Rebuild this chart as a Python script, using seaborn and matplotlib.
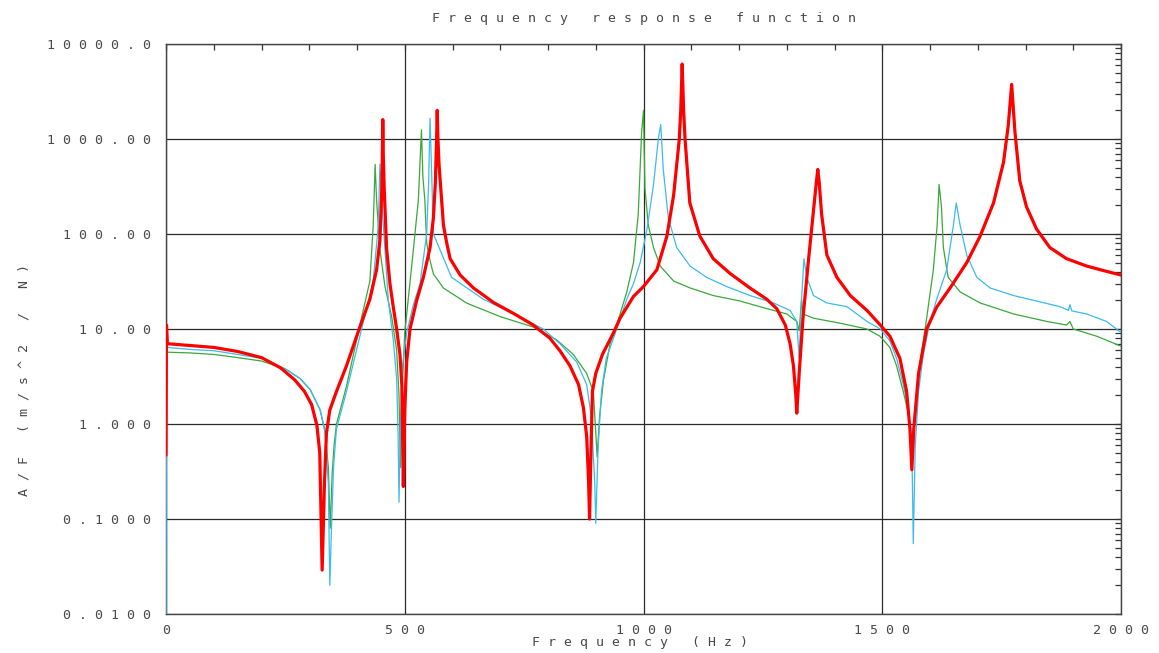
import matplotlib
matplotlib.use("Agg")
import matplotlib.pyplot as plt
import seaborn as sns
from matplotlib.ticker import FixedLocator, FixedFormatter, LogLocator, MultipleLocator, NullFormatter

# Frequency response A/F (m/s^2 / N) for three measurement channels
red_freq = [0, 1, 3, 50, 100, 150, 200, 240, 270, 290, 305, 316, 322, 327, 332, 336, 343, 357,
            378, 406, 427, 441, 448, 452, 453, 454, 455, 457, 462, 469, 476, 483, 490, 494, 497,
            500, 504, 511, 525, 539, 553, 560, 564, 566.5, 568, 569.5, 572, 581, 588, 595, 616,
            644, 686, 734, 769, 804, 825, 846, 864, 874, 881, 885, 887, 890, 893, 900, 914, 937,
            951, 979, 1000, 1028, 1049, 1063, 1075, 1078, 1081, 1084, 1087, 1097, 1118, 1146,
            1181, 1223, 1258, 1279, 1297, 1307, 1314, 1319, 1321, 1326, 1334, 1345, 1356, 1362,
            1365, 1368, 1373, 1384, 1405, 1433, 1468, 1496, 1516, 1537, 1551, 1558, 1562, 1566,
            1576, 1593, 1614, 1642, 1677, 1705, 1733, 1754, 1764, 1771, 1778, 1788, 1802, 1823,
            1851, 1886, 1928, 1965, 2000]
red_af = [0.47, 11, 7.0, 6.7, 6.4, 5.8, 5.0, 3.9, 2.9, 2.2, 1.6, 0.97, 0.5, 0.029, 0.25, 0.8, 1.4,
          2.2, 4.1, 10.5, 20.6, 42, 86, 300, 600, 1600, 700, 300, 70, 30, 17, 10, 5.4, 2.5, 0.22,
          1.4, 4.5, 10, 20, 35, 72, 148, 340, 900, 2000, 1000, 520, 124, 80, 55, 37,
          27, 19, 14, 11, 8, 5.9, 4.1, 2.6, 1.5, 0.74, 0.25, 0.1, 0.5, 2.2, 3.4, 5.4, 9.1,
          13, 22, 28, 42, 95, 254, 1000, 2000, 6150, 2000, 1000, 212, 95, 55,
          38.5, 27, 20.6, 16.4, 11, 7, 4.1, 2, 1.3, 3.4, 13, 50, 178, 350,
          478, 350, 162, 60, 35, 22.5, 15.7, 11, 8.4, 4.9, 2.2, 0.89, 0.33, 0.89,
          3.4, 10, 17, 27, 50, 95, 212, 570, 1400, 3760, 1170, 363, 194, 113,
          72, 55, 46, 41, 37]

cyan_freq = [0, 1, 3, 50, 100, 150, 200, 250, 281, 302, 323, 333, 340, 343, 347, 351, 357, 378,
             406, 434, 444.7, 448, 451.7, 458.6, 465.6, 476, 483, 486, 488, 491, 495, 504, 518,
             532, 546, 550, 553, 556, 560, 574, 598, 665, 734, 790, 825, 860, 881, 891, 898, 900,
             905, 912, 922, 944, 965, 979, 993, 1007, 1021, 1031, 1036, 1041.5, 1052, 1069.5,
             1097.5, 1132, 1174, 1223, 1272, 1307, 1321, 1326, 1331, 1336, 1342, 1356, 1384,
             1426, 1468, 1496, 1516, 1530, 1544, 1555, 1562, 1565, 1569, 1576, 1586, 1600, 1614,
             1635, 1649, 1655, 1663, 1677, 1698, 1726, 1775, 1823, 1872, 1890, 1893, 1897, 1928,
             1970, 2000]
cyan_af = [0.008, 9, 6.4, 6.1, 5.9, 5.4, 4.9, 3.8, 3.0, 2.3, 1.4, 0.81, 0.23, 0.02, 0.094, 0.36,
           0.89, 2.2, 8.4, 32, 124, 545, 228, 68, 20, 7.7, 3, 0.8, 0.15, 1.0, 4, 9.1, 18,
           30, 100, 350, 1650, 500, 100, 68, 35, 20.5, 14, 10, 7, 4.5, 2.6, 1.16, 0.23, 0.09,
           0.57, 2.2, 4.9, 10, 20.6, 30, 50, 110, 330, 1000, 1420, 475, 148, 72,
           46, 35, 28, 22.5, 18.8, 15.7, 12, 4.9, 20.6, 55, 35, 22.5, 18.8,
           17.2, 12, 10, 7.5, 4.9, 2.6, 1.39, 0.57, 0.055, 0.57, 2.2, 5.4, 12, 20.6,
           42, 124, 212, 124, 60, 35, 27, 22.5, 19.7, 17.2, 15.7, 18, 15.5, 14.4,
           12, 9.2]

green_freq = [0, 1, 3, 50, 100, 150, 200, 250, 281, 302, 323, 333, 340, 344, 348, 352, 357, 378,
              406, 427, 434, 438, 441, 448, 458.6, 472.6, 483, 488, 491, 494, 500, 518, 528.5,
              535, 538, 542, 546, 552, 560, 581, 630, 700, 769, 818, 853, 881, 895, 903, 908,
              916, 930, 944, 965, 979, 989, 996, 1000, 1003, 1010, 1021, 1035, 1063, 1098, 1146,
              1202, 1258, 1300, 1321, 1326, 1331, 1334, 1356, 1412, 1468, 1495, 1516, 1530,
              1544, 1555, 1563, 1570, 1576, 1593, 1607, 1615, 1619, 1624, 1628, 1638, 1663,
              1705, 1775, 1845, 1886, 1893, 1900, 1949, 2000]
green_af = [3.5, 8, 5.7, 5.6, 5.4, 5.0, 4.6, 3.8, 3.0, 2.3, 1.4, 0.85, 0.35, 0.08, 0.3, 0.6, 1.0,
            2.5, 11, 32, 124, 540, 228, 68, 28, 13.5, 6, 2, 0.35, 2, 9.1, 68, 228,
            1250, 400, 228, 80, 55, 38, 27, 18.7, 13.5, 10.5, 7.7, 5.4, 3.4, 2.2, 0.45, 1.2,
            2.85, 7, 11, 24.6, 50, 162, 1170, 2000, 304, 124, 72, 46, 32, 27, 22.5,
            19.7, 16.4, 14.4, 12, 9.6, 20.6, 14.4, 13, 11.5, 10, 8.4, 6.4, 4.1,
            2.2, 1.27, 0.6, 1.6, 3.4, 13, 42, 124, 333, 194, 72, 35, 24.6,
            18.8, 14.4, 12, 11, 12, 10, 8.4, 6.6]

y_ticks = [1e4, 1e3, 1e2, 1e1, 1e0, 1e-1, 1e-2]
y_tick_labels = ["10000.0", "1000.00", "100.00", "10.00", "1.000", "0.1000", "0.0100"]
x_ticks = [0, 500, 1000, 1500, 2000]
x_tick_labels = ["0", "500", "1000", "1500", "2000"]

TEXT = "#484848"


def spaced(s):
    return " ".join(s)


sns.set_style("white")
plt.rcParams["font.family"] = ["DejaVu Sans Mono", "DejaVu Sans"]

fig = plt.figure(figsize=(11.59, 6.53), dpi=100)
ax = fig.add_axes([166 / 1159, 39 / 653, 955 / 1159, 570 / 653])

series = [
    (green_freq, green_af, "#3aa83a", 0.9),
    (cyan_freq, cyan_af, "#3bbbee", 0.9),
    (red_freq, red_af, "#ff0000", 2.3),
]
for freq, af, color, lw in series:
    sns.lineplot(x=freq, y=af, ax=ax, color=color, linewidth=lw,
                 estimator=None, sort=False, zorder=3)

ax.set_yscale("log")
ax.set_xlim(0, 2000)
ax.set_ylim(0.01, 10000)

ax.xaxis.set_major_locator(FixedLocator(x_ticks))
ax.xaxis.set_major_formatter(FixedFormatter([spaced(t) for t in x_tick_labels]))
ax.xaxis.set_minor_locator(MultipleLocator(100))
ax.yaxis.set_major_locator(FixedLocator(y_ticks))
ax.yaxis.set_major_formatter(FixedFormatter([spaced(t) for t in y_tick_labels]))
ax.yaxis.set_minor_locator(LogLocator(base=10, subs=[2, 3, 4, 5, 6, 7, 8, 9], numticks=20))
ax.yaxis.set_minor_formatter(NullFormatter())

ax.grid(True, which="major", color="#2a2a2a", linewidth=0.9, zorder=1)
ax.grid(False, which="minor")
ax.tick_params(which="both", direction="in", top=True, right=True,
               color="#333333", width=0.9)
ax.tick_params(which="major", length=4)
ax.tick_params(which="minor", length=4)
ax.tick_params(axis="y", which="major", pad=11, labelsize=9.5, labelcolor=TEXT)
ax.tick_params(axis="x", which="major", pad=7, labelsize=9.5, labelcolor=TEXT)

for sp in ax.spines.values():
    sp.set_color("#444444")
    sp.set_linewidth(1.0)

ax.set_title(spaced("Frequency response function"), fontsize=9.5, color=TEXT, pad=16)
ax.set_xlabel(spaced("Frequency (Hz)"), fontsize=9.5, color=TEXT)
ax.xaxis.set_label_coords(0.496, -0.038)
ax.set_ylabel(spaced("A/F (m/s^2 / N)"), fontsize=9.5, color=TEXT)
ax.yaxis.set_label_coords(-0.142, 0.41)

fig.savefig("out.png", dpi=100)
